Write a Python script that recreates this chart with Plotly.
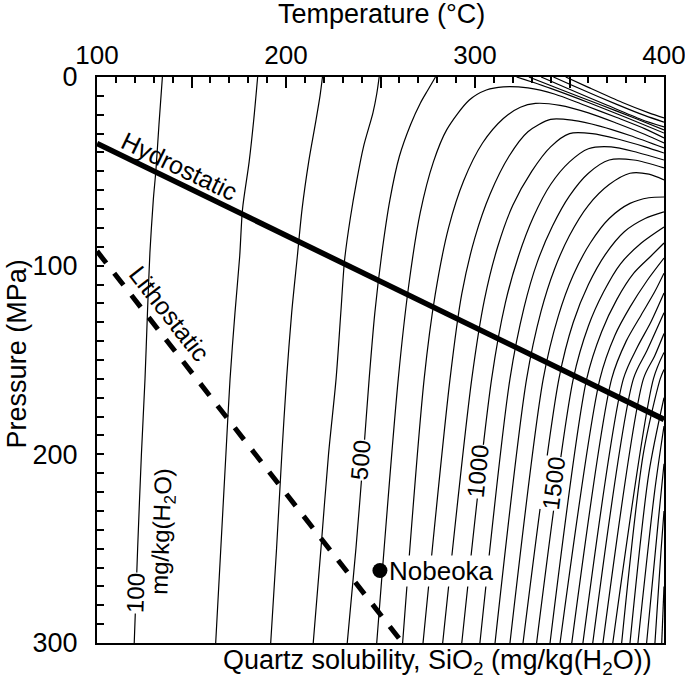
import plotly.graph_objects as go

# quartz solubility contours every 100 mg/kg(H2O)
LEVELS = [100, 200, 300, 400, 500, 600, 700, 800, 900, 1000, 1100, 1200, 1300, 1400,
          1500, 1600, 1700, 1800, 1900, 2000, 2100, 2200, 2300, 2400, 2500, 2600, 2700, 2800]

CONTOUR_T = [
    [119.7, 121.5, 123.5, 125.4, 126.7, 128, 129.8, 131.2, 132.8, 134.6],
    [162.8, 165.5, 168.2, 170.4, 173, 175.5, 177, 180.5, 183, 185],
    [191.9, 195, 197.8, 200.3, 203, 206, 208.5, 212, 215.5, 218, 219.3],
    [214.4, 218.5, 222.5, 226.5, 229, 231, 234, 237.4, 241, 246, 248, 249.3],
    [232.4, 237, 241, 244, 247, 250.5, 255, 260, 266, 271, 275, 279.1],
    [248, 259.4, 265, 271, 278, 285, 297, 306, 315, 328, 342, 358, 375, 390, 400],
    [261.7, 273.1, 279, 286, 294, 304, 315, 324, 332, 345, 360, 375, 390, 400],
    [272.5, 286.8, 293, 300, 308, 318, 328, 340, 352, 366, 382, 400],
    [282.9, 298.3, 305, 312, 320, 330, 340, 350, 362, 376, 390, 400],
    [293, 308.8, 316, 323, 331, 340, 350, 360, 372, 386, 400],
    [302.6, 318.5, 326, 333, 341, 350, 360, 371, 384, 400],
    [310.6, 327.3, 335, 342, 350, 360, 371, 382, 392, 400],
    [318.5, 336.1, 344, 352, 361, 371, 382, 392, 400],
    [325.4, 344.4, 352, 360, 369, 379, 390, 400],
    [332.6, 352, 360, 368, 377, 388, 400],
    [339.7, 359.1, 367, 375, 384, 393, 400],
    [345, 366.1, 374, 382, 391, 400],
    [351.2, 372.3, 380, 388, 395, 400],
    [357.1, 378.5, 386, 393, 400],
    [362.3, 383.8, 391, 400],
    [367.7, 389.1, 395, 400],
    [372.9, 394.4, 400],
    [377.6, 389, 398, 400],
    [382, 392, 400],
    [386.2, 395, 400],
    [390.8, 397, 400],
    [395.2, 398.5, 400],
    [398.8, 400],
]

CONTOUR_P = [
    [300, 250, 200, 160, 125, 93, 65, 49, 25, 0],
    [300, 250, 200, 160, 125, 95, 70, 45, 22, 0],
    [300, 250, 200, 160, 125, 95, 70, 45, 25, 10, 0],
    [300, 250, 200, 160, 125, 97, 75, 55, 37, 19, 9, 0],
    [300, 250, 200, 160, 125, 95, 65, 42, 25, 14, 7, 0],
    [300, 160, 110, 72, 45, 28, 12.2, 6.9, 5.2, 5.8, 9, 15, 21.5, 27.5, 32.3],
    [300, 160, 115, 80, 55, 35, 22, 16, 14, 15, 19, 24.5, 30.5, 35],
    [300, 160, 115, 85, 62, 42, 29, 22.5, 23, 26, 31, 37.6],
    [300, 160, 118, 90, 68, 50, 37, 30, 30, 33, 37, 40.3],
    [300, 160, 120, 95, 74, 57, 45, 38, 37, 40, 44],
    [300, 160, 122, 98, 79, 63, 51, 44, 44, 48.2],
    [300, 160, 124, 102, 84, 68, 57, 51, 51.5, 54.6],
    [300, 160, 127, 105, 88, 75, 67, 64, 63.6],
    [300, 160, 130, 110, 94, 82, 75, 71.5],
    [300, 160, 132, 114, 99, 88, 79.5],
    [300, 160, 135, 118, 104, 95, 88],
    [300, 160, 137, 122, 108, 96],
    [300, 160, 140, 126, 114, 104],
    [300, 160, 143, 130, 114.5],
    [300, 160, 145, 125],
    [300, 160, 148, 136],
    [300, 160, 146],
    [300, 200, 160, 155],
    [300, 210, 170],
    [300, 220, 185],
    [300, 235, 205],
    [300, 250, 230],
    [300, 270],
]

# low-solubility branches of the 100-500 contours near the critical point
VAPOUR_T = [[348, 360, 378, 392, 400], [341.5, 355, 375, 390, 400], [335, 350, 370, 388, 400],
            [328.5, 345, 365, 385, 400], [322, 340, 360, 380, 400]]
VAPOUR_P = [[0, 5.5, 13.5, 19, 21.7], [0, 6, 14.5, 20.5, 23.9], [0, 6.5, 15, 22.5, 26.5],
            [0, 6.5, 14.2, 22, 28.1], [0, 6, 13.5, 21.5, 29.7]]

HYDRO_T = [100, 400]
HYDRO_P = [35.2, 181.5]
LITHO_T = [100, 261.7]
LITHO_P = [92.3, 300]

SITE_T = [249.7]
SITE_P = [261.6]
SITE_NAME = "Nobeoka"

FONT = "Liberation Sans, Arial, sans-serif"

fig = go.Figure()

for ts, ps in zip(CONTOUR_T + VAPOUR_T, CONTOUR_P + VAPOUR_P):
    fig.add_trace(go.Scatter(x=ts, y=ps, mode="lines", hoverinfo="skip",
                             line=dict(color="black", width=1.2, shape="spline", smoothing=0.8)))

fig.add_trace(go.Scatter(x=HYDRO_T, y=HYDRO_P, mode="lines",
                         line=dict(color="black", width=5.5)))
fig.add_trace(go.Scatter(x=LITHO_T, y=LITHO_P, mode="lines",
                         line=dict(color="black", width=5, dash="15px,13px")))
fig.add_trace(go.Scatter(x=SITE_T, y=SITE_P, mode="markers",
                         marker=dict(color="black", size=15)))

labels = [
    # text, T, P, angle
    ("100", 120.1, 273.5, -88),
    ("mg/kg(H<sub>2</sub>O)", 135.0, 241, -88),
    ("500", 239.7, 203, -85),
    ("1000", 301.6, 209.3, -84),
    ("1500", 341.8, 215.7, -83),
]
for txt, t, p, ang in labels:
    fig.add_annotation(x=t, y=p, xref="x", yref="y", text=txt, showarrow=False,
                       textangle=ang, bgcolor="white", borderpad=0,
                       font=dict(family=FONT, size=24, color="black"))

fig.add_annotation(x=143.4, y=47.2, xref="x", yref="y", text="Hydrostatic", showarrow=False,
                   textangle=25.8, font=dict(family=FONT, size=25, color="black"))
fig.add_annotation(x=138.6, y=125.6, xref="x", yref="y", text="Lithostatic", showarrow=False,
                   textangle=52, font=dict(family=FONT, size=25, color="black"))
fig.add_annotation(x=254, y=261.6, xref="x", yref="y", text=SITE_NAME, showarrow=False,
                   xanchor="left", bgcolor="white", borderpad=0,
                   font=dict(family=FONT, size=26, color="black"))

# axis titles and the solubility caption
fig.add_annotation(x=0.5025, y=1.111, xref="paper", yref="paper", yanchor="middle",
                   text="Temperature (°C)", showarrow=False,
                   font=dict(family=FONT, size=27, color="black"))
fig.add_annotation(x=-0.141, y=0.51, xref="paper", yref="paper", xanchor="center",
                   text="Pressure (MPa)", textangle=-90, showarrow=False,
                   font=dict(family=FONT, size=27, color="black"))
fig.add_annotation(x=0.6005, y=-0.034, xref="paper", yref="paper", yanchor="middle",
                   text="Quartz solubility, SiO<sub>2</sub> (mg/kg(H<sub>2</sub>O))",
                   showarrow=False, font=dict(family=FONT, size=27, color="black"))

fig.update_layout(
    width=685, height=688,
    margin=dict(l=97, r=21, t=77, b=45),
    paper_bgcolor="white", plot_bgcolor="white",
    showlegend=False,
    font=dict(family=FONT, size=26, color="black"),
)
fig.update_xaxes(
    side="top", range=[100, 400], automargin=False,
    tickvals=[100, 150, 200, 250, 300, 350, 400],
    ticktext=["100", "", "200", "", "300", "", "400"],
    tickfont=dict(size=26), ticklabelstandoff=1, ticklabeloverflow="allow",
    ticks="inside", ticklen=11, tickwidth=1.5, tickcolor="black",
    minor=dict(ticks="inside", dtick=10, ticklen=6, tickwidth=1.5, tickcolor="black"),
    showline=True, linewidth=2, linecolor="black", mirror=True,
    showgrid=False, zeroline=False,
)
fig.update_yaxes(
    range=[300, 0], automargin=False,
    tickvals=[0, 100, 200, 300],
    tickfont=dict(size=27), ticklabelstandoff=12, ticklabeloverflow="allow",
    ticks="inside", ticklen=7, tickwidth=1.5, tickcolor="black",
    minor=dict(ticks="inside", dtick=10, ticklen=7, tickwidth=1.5, tickcolor="black"),
    showline=True, linewidth=2, linecolor="black", mirror=True,
    showgrid=False, zeroline=False,
)

# drop the default page margin so the figure fills the window exactly
fig.write_html("out.html", config={"displayModeBar": False},
               post_script="document.body.style.margin = '0';")
